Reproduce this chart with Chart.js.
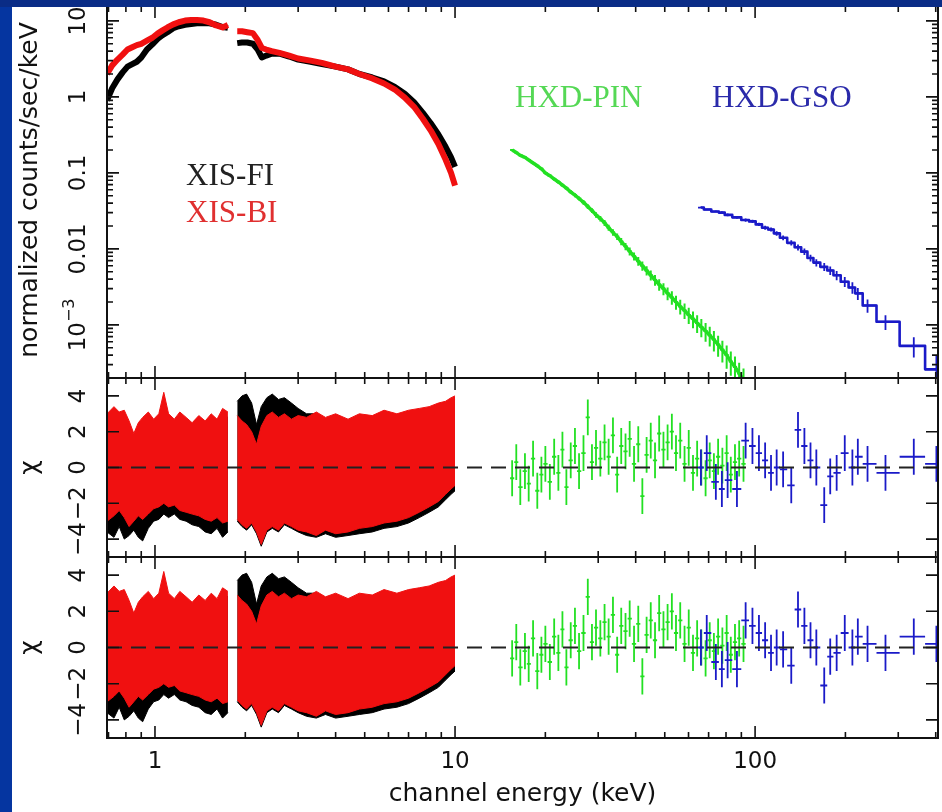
<!DOCTYPE html>
<html>
<head>
<meta charset="utf-8">
<title>XIS / HXD spectrum</title>
<script src="https://cdn.jsdelivr.net/npm/chart.js@4.4.1/dist/chart.umd.min.js"></script>
<style>
  html, body { margin: 0; padding: 0; }
  body { width: 942px; height: 812px; background: #0535a0; position: relative; overflow: hidden; }
  #paper { position: absolute; left: 12px; top: 7px; right: 0; bottom: 0; background: #fff; }
  #band { position: absolute; left: 0; top: 0; width: 942px; height: 7px; background: #0a2c86; z-index: 10; }
  canvas { position: absolute; left: 0; }
</style>
</head>
<body>
<div id="paper"></div>
<canvas id="specChart" width="942" height="380" style="top:0"></canvas>
<canvas id="residChart1" width="942" height="200" style="top:370px"></canvas>
<canvas id="residChart2" width="942" height="263" style="top:549px"></canvas>
<div id="band"></div>
<script>
// ---- data ----
const xTickValues = [1, 10, 100];
const xTickLabels = ['1', '10', '100'];
const specTickValues = [10, 1, 0.1, 0.01, 0.001];
const specTickLabels = ['10', '1', '0.1', '0.01', '10^\u22123'];
const residTickValues = [-4, -2, 0, 2, 4];
const residTickLabels = ['\u22124', '\u22122', '0', '2', '4'];

// XIS spectra (counts/s/keV), null = gap around the Si edge
const xisE = [0.692, 0.72, 0.75, 0.78, 0.81, 0.84, 0.87, 0.90, 0.94, 0.98, 1.02, 1.06, 1.10, 1.15, 1.20, 1.26, 1.32, 1.38, 1.45, 1.52, 1.60, 1.68, 1.75, 1.82, 1.88, 1.95, 2.03, 2.12, 2.20, 2.27, 2.35, 2.45, 2.6, 2.8, 3.0, 3.3, 3.6, 4.0, 4.4, 4.8, 5.3, 5.8, 6.3, 6.8, 7.3, 7.8, 8.3, 8.8, 9.3, 9.7, 10.0];
const xisFiRate = [0.9, 1.3, 1.7, 2.1, 2.5, 2.7, 2.9, 3.3, 4.2, 4.9, 5.8, 6.5, 7.1, 8.0, 8.5, 8.9, 9.1, 9.3, 9.4, 9.3, 8.9, 8.3, 8.1, null, 5.1, 5.2, 5.2, 5.0, 4.2, 3.3, 3.5, 3.7, 3.7, 3.4, 3.1, 2.9, 2.7, 2.5, 2.3, 2.0, 1.8, 1.6, 1.35, 1.1, 0.85, 0.62, 0.45, 0.32, 0.22, 0.16, 0.12];
const xisBiRate = [2.0, 2.6, 3.1, 3.6, 4.2, 4.5, 4.8, 5.0, 5.5, 6.0, 6.8, 7.5, 8.2, 9.0, 9.6, 10.1, 10.3, 10.3, 10.1, 9.6, 8.7, 8.2, 8.8, null, 7.3, 7.3, 7.1, 6.9, 5.6, 4.4, 4.2, 4.0, 3.8, 3.5, 3.2, 3.0, 2.8, 2.5, 2.3, 2.0, 1.75, 1.5, 1.25, 0.98, 0.74, 0.52, 0.36, 0.24, 0.15, 0.10, 0.068];

// HXD-PIN
const pinE = [15.5, 16.0, 16.5, 17.1, 17.6, 18.2, 18.8, 19.4, 20.0, 20.7, 21.4, 22.1, 22.8, 23.5, 24.3, 25.1, 25.9, 26.8, 27.7, 28.6, 29.5, 30.5, 31.5, 32.5, 33.6, 34.7, 35.8, 37.0, 38.2, 39.5, 40.8, 42.1, 43.5, 44.9, 46.4, 47.9, 49.5, 51.1, 52.8, 54.5, 56.3, 58.2, 60.1, 62.1, 64.1, 66.2, 68.4, 70.6, 72.9, 75.3, 77.8, 80.4, 83.0, 85.7, 88.5, 91.5];
const pinRate = [0.20, 0.185, 0.17, 0.16, 0.148, 0.135, 0.124, 0.113, 0.10, 0.092, 0.083, 0.076, 0.069, 0.063, 0.056, 0.051, 0.046, 0.041, 0.036, 0.032, 0.028, 0.025, 0.022, 0.019, 0.0165, 0.0145, 0.0125, 0.0108, 0.0093, 0.0080, 0.0069, 0.0060, 0.0052, 0.0045, 0.0039, 0.0034, 0.0030, 0.0026, 0.0023, 0.0020, 0.00175, 0.00155, 0.00135, 0.0012, 0.00106, 0.00094, 0.00083, 0.00073, 0.00064, 0.00055, 0.00047, 0.00040, 0.00033, 0.00028, 0.00023, 0.00019];
const pinErr = [0.03, 0.03, 0.03, 0.03, 0.03, 0.04, 0.04, 0.04, 0.04, 0.04, 0.05, 0.05, 0.05, 0.05, 0.06, 0.06, 0.06, 0.07, 0.07, 0.07, 0.08, 0.08, 0.09, 0.09, 0.1, 0.1, 0.11, 0.11, 0.12, 0.12, 0.13, 0.14, 0.14, 0.15, 0.16, 0.17, 0.18, 0.19, 0.2, 0.21, 0.22, 0.23, 0.24, 0.25, 0.26, 0.27, 0.28, 0.29, 0.3, 0.31, 0.32, 0.34, 0.35, 0.37, 0.38, 0.4];
const pinChi = [-0.6, 0.3, -1.1, -0.2, -0.9, 0.5, -1.3, -0.4, 0.2, -0.8, 0.6, -0.3, 1.0, -1.1, 0.4, 1.2, -0.2, 0.8, 2.8, 0.3, 1.1, 0.5, 1.4, 0.6, 1.8, -0.4, 1.2, 0.9, 1.6, 0.2, 1.3, -1.6, 0.7, 1.5, 0.4, 1.9, 1.0, 1.4, 2.0, 0.8, 1.5, 0.2, 1.1, -0.3, 0.5, 0.0, -0.6, 0.4, -0.2, 0.6, 0.1, 0.8, -0.4, 0.3, 0.5, 0.2];

// HXD-GSO
const gsoE = [66, 69, 74, 77.5, 81, 87, 93, 98, 103, 108, 113, 118, 124, 132, 139, 146, 153, 160, 170, 178, 187, 199, 211, 220, 237, 272, 338, 402];
const gsoRate = [0.035, 0.033, 0.031, 0.030, 0.028, 0.026, 0.024, 0.023, 0.021, 0.019, 0.018, 0.016, 0.014, 0.012, 0.0105, 0.0092, 0.0076, 0.0066, 0.0058, 0.0052, 0.0045, 0.0037, 0.0031, 0.0026, 0.0018, 0.0011, 0.00053, 0.00026];
const gsoErr = [0.03, 0.03, 0.03, 0.04, 0.04, 0.04, 0.05, 0.05, 0.05, 0.06, 0.06, 0.07, 0.07, 0.08, 0.09, 0.1, 0.1, 0.11, 0.12, 0.13, 0.14, 0.15, 0.17, 0.18, 0.2, 0.22, 0.3, 0.5];
const gsoChi = [0.0, 0.8, -0.8, -1.2, -0.7, -1.2, 1.5, 1.2, 0.8, 0.4, -0.3, 0.0, -0.1, -1.0, 2.1, 1.2, 0.4, 0.0, -2.1, -0.5, -0.3, 0.8, 0.0, 0.6, 0.2, -0.3, 0.6, 0.2];

// XIS residual bands (upper / lower envelope in sigma)
const xisResE = [0.692, 0.73, 0.76, 0.79, 0.82, 0.85, 0.88, 0.91, 0.95, 0.99, 1.03, 1.07, 1.11, 1.16, 1.21, 1.27, 1.33, 1.40, 1.47, 1.54, 1.61, 1.68, 1.75, 1.82, 1.88, 1.95, 2.02, 2.10, 2.18, 2.26, 2.36, 2.46, 2.58, 2.70, 2.85, 3.0, 3.2, 3.45, 3.7, 4.0, 4.4, 4.8, 5.3, 5.8, 6.4, 7.0, 7.6, 8.2, 8.8, 9.3, 9.7, 10.0];
const biResHi = [3.0, 3.4, 3.1, 3.2, 2.6, 1.9, 2.5, 2.8, 3.1, 2.7, 3.0, 4.2, 3.0, 2.7, 3.1, 2.8, 2.5, 2.9, 2.6, 3.0, 2.7, 3.3, 3.1, null, 2.9, 2.6, 2.4, 2.0, 1.3, 2.3, 2.9, 3.1, 2.8, 3.0, 2.7, 2.9, 2.8, 3.1, 2.8, 3.0, 2.7, 3.0, 2.9, 3.2, 3.0, 3.2, 3.3, 3.4, 3.6, 3.7, 3.9, 4.0];
const biResLo = [-3.0, -2.7, -2.4, -2.8, -3.3, -3.0, -2.7, -2.9, -2.6, -2.3, -2.2, -2.0, -2.2, -2.1, -2.4, -2.5, -2.6, -2.7, -2.9, -3.0, -2.8, -3.1, -3.0, null, -2.9, -3.2, -3.4, -3.1, -3.6, -4.3, -3.5, -3.3, -3.5, -3.1, -3.3, -3.5, -3.6, -3.8, -3.5, -3.7, -3.6, -3.4, -3.3, -3.1, -3.0, -2.8, -2.5, -2.2, -1.9, -1.5, -1.2, -1.0];
const fiResHi = [2.7, 3.0, 2.8, 2.9, 2.3, 1.7, 2.2, 2.5, 2.8, 2.4, 2.7, 3.8, 2.7, 2.4, 2.8, 2.5, 2.2, 2.6, 2.3, 2.7, 2.4, 3.0, 2.8, null, 3.7, 4.0, 4.1, 3.6, 2.4, 3.4, 3.9, 4.1, 3.8, 3.9, 3.6, 3.3, 3.0, 3.0, 2.7, 2.9, 2.6, 2.9, 2.8, 3.0, 2.9, 3.1, 3.2, 3.3, 3.5, 3.6, 3.7, 3.8];
const fiResLo = [-3.6, -3.9, -3.3, -4.0, -3.8, -3.5, -3.9, -4.1, -3.4, -3.0, -2.9, -2.6, -2.8, -2.6, -2.9, -3.0, -3.2, -3.3, -3.6, -3.7, -3.4, -3.9, -3.6, null, -3.0, -3.3, -3.5, -3.2, -3.7, -4.4, -3.6, -3.4, -3.6, -3.2, -3.4, -3.6, -3.8, -3.9, -3.7, -3.9, -3.8, -3.7, -3.6, -3.4, -3.3, -3.1, -2.8, -2.5, -2.2, -1.8, -1.5, -1.3];

// ---- styling ----
const X_MIN = 0.692, X_MAX = 407;
const INK = '#111';
const RED = '#f01010', BLACK = '#000', GREEN = '#22e022', BLUE = '#1a1ac8';
const AXIS_FONT = '"DejaVu Sans", "Liberation Sans", sans-serif';

function toPoints(es, vals) {
  return es.map((e, i) => ({ x: e, y: vals[i] }));
}

// bin edges halfway (in log) between neighbouring channels
function binEdges(es) {
  return es.map((e, i) => {
    const prev = i > 0 ? es[i - 1] : e * e / es[i + 1];
    const next = i < es.length - 1 ? es[i + 1] : e * e / es[i - 1];
    return [Math.sqrt(prev * e), Math.sqrt(e * next)];
  });
}

// error-bar crosses as one broken polyline
function crossPoints(es, vals, lo, hi) {
  const edges = binEdges(es);
  const pts = [];
  es.forEach((e, i) => {
    pts.push({ x: edges[i][0], y: vals[i] }, { x: edges[i][1], y: vals[i] }, { x: e, y: null });
    pts.push({ x: e, y: lo[i] }, { x: e, y: hi[i] }, { x: e, y: null });
  });
  return pts;
}

function crossSet(pts, color, order, width) {
  return { data: pts, borderColor: color, borderWidth: width || 1.6, fill: false, spanGaps: false, order };
}

function bandSets(es, hi, lo, color, order) {
  const sets = [];
  let seg = [];
  const flush = () => {
    if (!seg.length) return;
    sets.push({ data: seg.map(i => ({ x: es[i], y: hi[i] })), borderColor: color, backgroundColor: color, borderWidth: 1, fill: '+1', order });
    sets.push({ data: seg.map(i => ({ x: es[i], y: lo[i] })), borderColor: color, borderWidth: 1, fill: false, order });
    seg = [];
  };
  es.forEach((e, i) => { if (hi[i] === null) flush(); else seg.push(i); });
  flush();
  return sets;
}

function drawRotated(ctx, label, cx, cy, size) {
  const parts = label.split('^');
  ctx.save();
  ctx.translate(cx, cy);
  ctx.rotate(-Math.PI / 2);
  ctx.textBaseline = 'middle';
  ctx.textAlign = 'left';
  const fonts = [size + 'px ' + AXIS_FONT, Math.round(size * 0.68) + 'px ' + AXIS_FONT];
  let total = 0;
  parts.forEach((p, i) => { ctx.font = fonts[i ? 1 : 0]; total += ctx.measureText(p).width; });
  let x = -total / 2;
  parts.forEach((p, i) => {
    ctx.font = fonts[i ? 1 : 0];
    ctx.fillText(p, x, i ? -size * 0.38 : 0);
    x += ctx.measureText(p).width;
  });
  ctx.restore();
}

const framePlugin = {
  id: 'frame',
  afterDraw(chart, args, opts) {
    const { ctx, chartArea: a } = chart;
    const xs = chart.scales.x, ys = chart.scales.y;
    ctx.save();
    ctx.strokeStyle = INK;
    ctx.fillStyle = INK;
    ctx.lineWidth = 1.6;
    ctx.beginPath();
    for (let p = -1; p <= 2; p++) {
      for (let k = 1; k <= 9; k++) {
        const v = k * Math.pow(10, p);
        if (v < xs.min || v > xs.max) continue;
        const px = xs.getPixelForValue(v);
        const len = k === 1 ? 12 : 6;
        ctx.moveTo(px, a.top); ctx.lineTo(px, a.top + len);
        ctx.moveTo(px, a.bottom); ctx.lineTo(px, a.bottom - len);
      }
    }
    opts.yTicks.forEach(t => {
      const py = ys.getPixelForValue(t.v);
      const len = t.major ? 12 : 6;
      ctx.moveTo(a.left, py); ctx.lineTo(a.left + len, py);
      ctx.moveTo(a.right, py); ctx.lineTo(a.right - len, py);
    });
    ctx.stroke();
    ctx.lineWidth = 2;
    ctx.strokeRect(a.left, a.top, a.right - a.left, a.bottom - a.top);

    opts.yLabels.forEach((t, i) => drawRotated(ctx, opts.yLabelText[i], 79, ys.getPixelForValue(t), 23));
    drawRotated(ctx, opts.yTitle, 30, opts.yTitleY === undefined ? (a.top + a.bottom) / 2 : opts.yTitleY, 25);

    if (opts.xLabels) {
      ctx.font = '23px ' + AXIS_FONT;
      ctx.textAlign = 'center';
      ctx.textBaseline = 'middle';
      xTickValues.forEach((v, i) => ctx.fillText(xTickLabels[i], xs.getPixelForValue(v), a.bottom + 24));
      ctx.font = '25px ' + AXIS_FONT;
      ctx.fillText('channel energy (keV)', (a.left + a.right) / 2, a.bottom + 56);
    }
    (opts.notes || []).forEach(n => {
      ctx.font = '31px "Liberation Serif", "Times New Roman", serif';
      ctx.fillStyle = n.color;
      ctx.textAlign = 'left';
      ctx.textBaseline = 'alphabetic';
      ctx.fillText(n.text, xs.getPixelForValue(n.e), ys.getPixelForValue(n.v));
    });
    ctx.restore();
  }
};

function chartOptions(yScale, padding, frame) {
  return {
    responsive: false,
    animation: false,
    events: [],
    layout: { padding },
    elements: { point: { radius: 0 }, line: { tension: 0, borderJoinStyle: 'round' } },
    plugins: { legend: { display: false }, tooltip: { enabled: false }, frame },
    scales: {
      x: { type: 'logarithmic', min: X_MIN, max: X_MAX, display: false },
      y: Object.assign({ display: false }, yScale)
    }
  };
}

// ---- top panel: spectra ----
const logTicks = [];
for (let p = -4; p <= 1; p++) {
  for (let k = 1; k <= 9; k++) {
    const v = k * Math.pow(10, p);
    if (v >= 2e-4 && v <= 15.7) logTicks.push({ v, major: k === 1 });
  }
}

new Chart(document.getElementById('specChart'), {
  type: 'line',
  data: {
    datasets: [
      crossSet(crossPoints(gsoE, gsoRate, gsoRate.map((v, i) => v * (1 - gsoErr[i])), gsoRate.map((v, i) => v * (1 + gsoErr[i]))), BLUE, 1, 1.8),
      { data: toPoints(gsoE, gsoRate), borderColor: BLUE, borderWidth: 2.6, fill: false, order: 1, stepped: 'middle' },
      crossSet(crossPoints(pinE, pinRate, pinRate.map((v, i) => v * (1 - pinErr[i])), pinRate.map((v, i) => v * (1 + pinErr[i]))), GREEN, 1, 2),
      { data: toPoints(pinE, pinRate), borderColor: GREEN, borderWidth: 3.5, fill: false, order: 1 },
      { data: toPoints(xisE, xisBiRate), borderColor: RED, borderWidth: 6, fill: false, spanGaps: false, order: 2 },
      { data: toPoints(xisE, xisFiRate), borderColor: BLACK, borderWidth: 6, fill: false, spanGaps: false, order: 3 }
    ]
  },
  options: chartOptions(
    { type: 'logarithmic', min: 2e-4, max: 15.7 },
    { left: 107, right: 4, top: 6, bottom: 2 },
    {
      yTicks: logTicks,
      yLabels: specTickValues,
      yLabelText: specTickLabels,
      yTitle: 'normalized counts/sec/keV',
      yTitleY: 190,
      notes: [
        { text: 'XIS-FI', e: 1.27, v: 0.0693, color: '#222' },
        { text: 'XIS-BI', e: 1.27, v: 0.0226, color: '#e03030' },
        { text: 'HXD-PIN', e: 15.85, v: 0.736, color: '#55d855' },
        { text: 'HXD-GSO', e: 71.9, v: 0.736, color: '#2a2aaa' }
      ]
    }
  ),
  plugins: [framePlugin]
});

// ---- residual panels ----
function residChart(id, padding, showX) {
  new Chart(document.getElementById(id), {
    type: 'line',
    data: {
      datasets: [
        { data: [{ x: X_MIN, y: 0 }, { x: X_MAX, y: 0 }], borderColor: '#222', borderWidth: 2, borderDash: [15, 9], fill: false, order: 0 },
        crossSet(crossPoints(gsoE, gsoChi, gsoChi.map(v => v - 1), gsoChi.map(v => v + 1)), BLUE, 1, 1.8),
        crossSet(crossPoints(pinE, pinChi, pinChi.map(v => v - 1), pinChi.map(v => v + 1)), GREEN, 2, 1.8),
        ...bandSets(xisResE, biResHi, biResLo, RED, 5),
        ...bandSets(xisResE, fiResHi, fiResLo, BLACK, 6)
      ]
    },
    options: chartOptions(
      { type: 'linear', min: -5, max: 5 },
      padding,
      {
        yTicks: residTickValues.map(v => ({ v, major: true })),
        yLabels: residTickValues,
        yLabelText: residTickLabels,
        yTitle: '\u03c7',
        xLabels: showX
      }
    ),
    plugins: [framePlugin]
  });
}

residChart('residChart1', { left: 107, right: 4, top: 8, bottom: 13 }, false);
residChart('residChart2', { left: 107, right: 4, top: 8, bottom: 74 }, true);
</script>
</body>
</html>
